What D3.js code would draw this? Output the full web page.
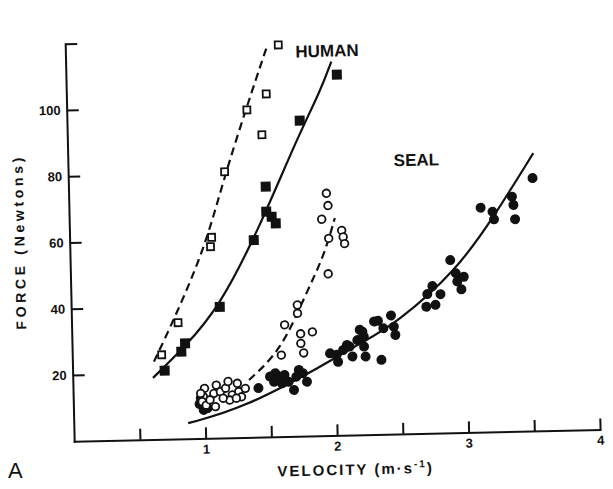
<!DOCTYPE html>
<html>
<head>
<meta charset="utf-8">
<script src="https://cdn.jsdelivr.net/npm/d3@7"></script>
<style>
  body { margin: 0; background: #fff; }
  text { font-family: "Liberation Sans", Arial, sans-serif; fill: #111; }
</style>
</head>
<body>
<div id="chart"></div>
<script>
// velocity (m/s), force (N)
var humanOpen = [[0.68,25.5],[0.81,35.1],[1.08,60.6],[1.07,57.8],[1.19,80.3],[1.37,98.8],[1.48,91.2],[1.52,103.5],[1.62,118.2]];
var humanFilled = [[0.70,20.7],[0.83,26.3],[0.86,28.8],[1.13,39.6],[1.40,59.5],[1.50,75.5],[1.50,68.0],[1.54,66.4],[1.57,64.4],[1.77,95.2],[2.06,108.8]];
var sealOpen = [[1.96,73.1],[1.97,69.4],[1.92,65.3],[2.07,61.8],[2.08,59.8],[2.09,57.8],[1.97,59.5],[1.96,48.8],
  [1.72,39.6],[1.72,37.1],[1.62,33.7],[1.83,31.4],[1.74,30.9],[1.74,28.0],[1.76,25.1],[1.59,24.6],
  [1.00,15.1],[0.99,12.6],[0.98,11.1],[1.01,10.0],[1.07,13.5],[1.09,16.0],[1.12,14.0],[1.16,15.0],[1.18,17.0],
  [1.21,12.9],[1.19,11.4],[1.25,16.4],[1.26,13.9],[1.28,12.3],[1.31,14.8],[1.24,11.9],[1.04,11.6],[1.08,9.5],
  [1.14,12.0],[0.97,13.6]];
var sealFilled = [[0.96,10.4],[0.99,8.6],[1.02,9.1],[0.97,12.2],[1.41,14.8],[1.50,18.2],[1.54,19.2],[1.58,18.1],
  [1.61,18.6],[1.53,16.6],[1.59,16.1],[1.64,16.5],[1.68,14.0],[1.72,20.0],[1.75,19.0],[1.78,16.4],[1.70,18.0],
  [1.96,24.8],[2.01,24.3],[2.06,25.7],[2.11,26.7],[2.17,28.6],[2.22,29.6],[2.02,22.2],[2.13,23.7],[2.19,31.7],
  [2.30,34.1],[2.09,27.2],[3.53,76.3],[3.37,70.8],[3.38,68.3],[3.39,64.0],[3.13,67.7],[3.22,66.4],[3.23,64.1],
  [2.89,52.1],[2.93,48.1],[2.99,47.0],[2.97,43.2],[2.94,45.6],[2.75,44.4],[2.71,42.0],[2.81,41.9],[2.77,38.7],
  [2.70,38.2],[2.43,35.8],[2.33,34.3],[2.37,32.0],[2.45,32.4],[2.46,29.9],[2.21,31.1],[2.22,26.6],[2.23,23.6],
  [2.35,22.5]];

// fitted curves
var humanDashed = [[0.62,23.5],[0.79,36.9],[1.03,57.8],[1.18,77.9],[1.37,99.8],[1.53,117.4]];
var humanSolid = [[0.61,18.6],[0.85,27.5],[1.12,39.0],[1.45,63.5],[1.74,89.4],[1.93,103.8],[2.02,112.8]];
var sealDashed = [[1.34,17.3],[1.59,26.1],[1.77,41.6],[1.93,54.0],[2.02,65.6]];
var sealSolid = [[0.87,4.7],[1.29,8.8],[1.91,21.3],[2.19,27.6],[2.47,33.4],[2.94,49.1],[3.23,64.9],[3.54,83.8]];

var xTicks = [0.5,1,1.5,2,2.5,3,3.5,4];
var yTicks = [20,40,60,80,100,120];
var labels = [{text:"HUMAN", v:1.99, f:114.3}, {text:"SEAL", v:2.65, f:80.8}];

var svgWidth = 613;
var svgHeight = 489;

var svg = d3.select("#chart").append("svg")
  .attr("width", svgWidth)
  .attr("height", svgHeight);

svg.append("rect").attr("width", svgWidth).attr("height", svgHeight).attr("fill", "#fff");

// the scanned figure sits slightly tilted
var chart = svg.append("g").attr("transform", "rotate(-1.3, 76.5, 441.7)");

var x = d3.scaleLinear().domain([0, 4]).range([74.2, 600.2]);
var y = d3.scaleLinear().domain([0, 120]).range([441.3, 43.6]);

var xAxis = d3.axisBottom(x)
  .tickValues(xTicks)
  .tickFormat(d => Number.isInteger(d) ? d : "")
  .tickSizeInner(-11).tickSizeOuter(0).tickPadding(6);

var yAxis = d3.axisLeft(y)
  .tickValues(yTicks)
  .tickFormat(d => d === 120 ? "" : d)
  .tickSizeInner(-12).tickSizeOuter(0).tickPadding(6);

var gx = chart.append("g").attr("transform", `translate(0, ${y(0)})`).call(xAxis);
var gy = chart.append("g").attr("transform", `translate(${x(0)}, 0)`).call(yAxis);

[gx, gy].forEach(function(a) {
  a.select(".domain").attr("stroke", "#111").attr("stroke-width", 2).attr("stroke-linecap", "square");
  a.selectAll(".tick line").attr("stroke", "#111").attr("stroke-width", 2);
  a.selectAll(".tick text").style("font-size", "13px").style("font-weight", "bold").attr("fill", "#111");
});

var line = d3.line().x(d => x(d[0])).y(d => y(d[1])).curve(d3.curveBasis);

function drawCurve(data, dashed) {
  chart.append("path").datum(data)
    .attr("d", line)
    .attr("fill", "none")
    .attr("stroke", "#111")
    .attr("stroke-width", 2.2)
    .attr("stroke-dasharray", dashed ? "8,5" : null);
}
drawCurve(humanDashed, true);
drawCurve(humanSolid, false);
drawCurve(sealDashed, true);
drawCurve(sealSolid, false);

chart.selectAll(".sealFilled").data(sealFilled).enter().append("circle")
  .attr("class", "sealFilled")
  .attr("cx", d => x(d[0]))
  .attr("cy", d => y(d[1]))
  .attr("r", 5)
  .attr("fill", "#111");

chart.selectAll(".sealOpen").data(sealOpen).enter().append("circle")
  .attr("class", "sealOpen")
  .attr("cx", d => x(d[0]))
  .attr("cy", d => y(d[1]))
  .attr("r", 3.8)
  .attr("fill", "#fff")
  .attr("stroke", "#111")
  .attr("stroke-width", 1.8);

chart.selectAll(".humanFilled").data(humanFilled).enter().append("rect")
  .attr("class", "humanFilled")
  .attr("x", d => x(d[0]) - 5)
  .attr("y", d => y(d[1]) - 5)
  .attr("width", 10).attr("height", 10)
  .attr("fill", "#111");

chart.selectAll(".humanOpen").data(humanOpen).enter().append("rect")
  .attr("class", "humanOpen")
  .attr("x", d => x(d[0]) - 3.5)
  .attr("y", d => y(d[1]) - 3.5)
  .attr("width", 7).attr("height", 7)
  .attr("fill", "#fff")
  .attr("stroke", "#111")
  .attr("stroke-width", 1.8);

chart.selectAll(".groupLabel").data(labels).enter().append("text")
  .attr("class", "groupLabel")
  .attr("x", d => x(d.v))
  .attr("y", d => y(d.f))
  .attr("text-anchor", "middle")
  .style("font-size", "17px")
  .style("font-weight", "bold")
  .text(d => d.text);

chart.append("text")
  .attr("transform", `translate(24, ${y(60)}) rotate(-90)`)
  .attr("text-anchor", "middle")
  .attr("dy", "0.35em")
  .style("font-size", "14px")
  .style("font-weight", "bold")
  .attr("textLength", 172)
  .attr("lengthAdjust", "spacing")
  .text("FORCE (Newtons)");

var xt = chart.append("text")
  .attr("x", 355)
  .attr("y", 481)
  .attr("text-anchor", "middle")
  .style("font-size", "15px")
  .style("font-weight", "bold")
  .style("letter-spacing", "2px");
xt.append("tspan").text("VELOCITY (m\u00B7s");
xt.append("tspan").attr("dy", -6).style("font-size", "10px").text("-1");
xt.append("tspan").attr("dy", 6).text(")");

svg.append("text")
  .attr("x", 8)
  .attr("y", 478)
  .style("font-size", "22px")
  .text("A");
</script>
</body>
</html>
